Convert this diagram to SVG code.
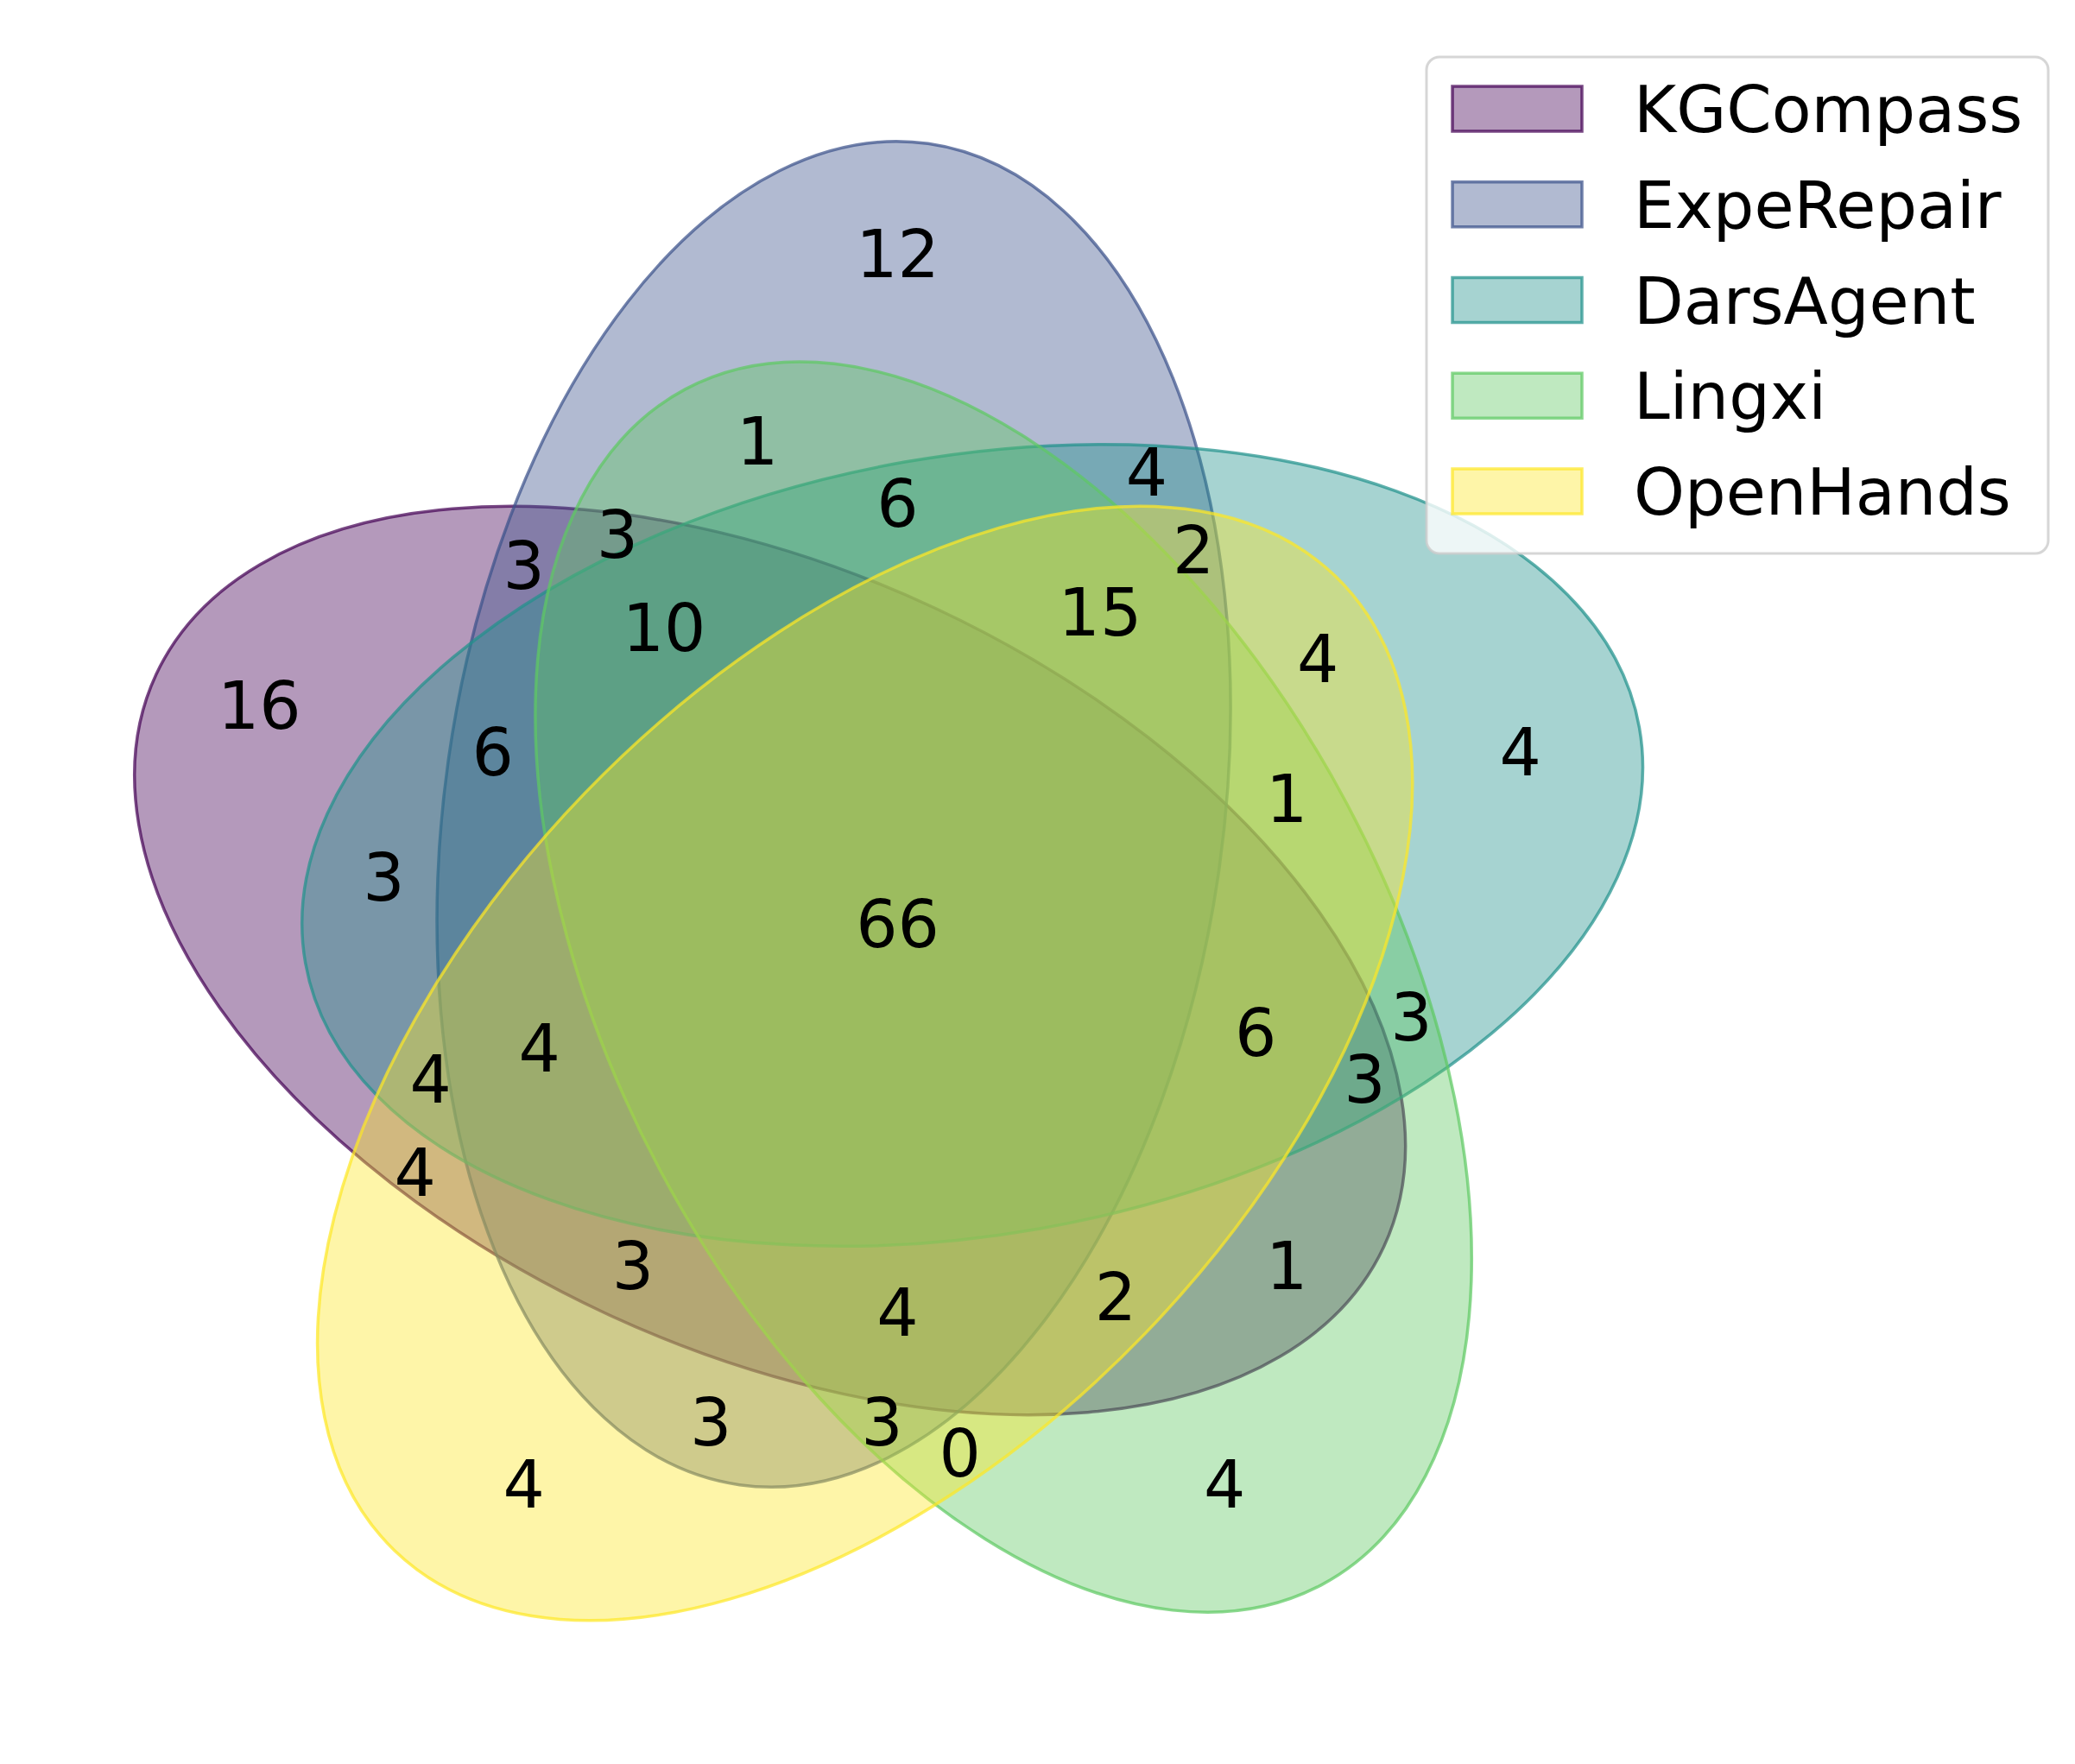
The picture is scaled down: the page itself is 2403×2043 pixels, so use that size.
<svg xmlns="http://www.w3.org/2000/svg" width="2403" height="2043" viewBox="0 0 2403 2043">
<style>
.lbl{font-family:"DejaVu Sans",sans-serif;font-size:76px;fill:#000;text-anchor:middle}
.leg{font-family:"DejaVu Sans",sans-serif;font-size:75px;fill:#000}
.sh{fill-opacity:0.4;stroke-opacity:0.72;stroke-width:3.5}
</style>
<rect x="0" y="0" width="2403" height="2043" fill="#ffffff"/>
<g id="sets">
<g id="kgcompass"><ellipse class="sh" cx="891.7" cy="1112.5" rx="784.3" ry="450.75" transform="rotate(-155 891.7 1112.5)" fill="#440154" stroke="#440154"/></g>
<g id="experepair"><ellipse class="sh" cx="965.6" cy="943.0" rx="784.3" ry="450.75" transform="rotate(-82 965.6 943.0)" fill="#3b528b" stroke="#3b528b"/></g>
<g id="darsagent"><ellipse class="sh" cx="1126.1" cy="979.0" rx="784.3" ry="450.75" transform="rotate(-10 1126.1 979.0)" fill="#21918c" stroke="#21918c"/></g>
<g id="lingxi"><ellipse class="sh" cx="1162.1" cy="1143.1" rx="784.3" ry="450.75" transform="rotate(-118 1162.1 1143.1)" fill="#5ec962" stroke="#5ec962"/></g>
<g id="openhands"><ellipse class="sh" cx="1001.7" cy="1231.5" rx="784.3" ry="450.75" transform="rotate(-46 1001.7 1231.5)" fill="#fde725" stroke="#fde725"/></g>
</g>
<g id="labels">
<text class="lbl" x="606.8" y="1745.7">4</text>
<text class="lbl" x="1418.2" y="1745.7">4</text>
<text class="lbl" x="1111.7" y="1709.6">0</text>
<text class="lbl" x="1760.7" y="898.3">4</text>
<text class="lbl" x="1526.3" y="790.1">4</text>
<text class="lbl" x="1634.5" y="1204.8">3</text>
<text class="lbl" x="1490.3" y="952.3">1</text>
<text class="lbl" x="1039.5" y="321.3">12</text>
<text class="lbl" x="823.2" y="1673.5">3</text>
<text class="lbl" x="877.3" y="537.7">1</text>
<text class="lbl" x="1021.5" y="1673.5">3</text>
<text class="lbl" x="1328" y="573.7">4</text>
<text class="lbl" x="1382.1" y="663.9">2</text>
<text class="lbl" x="1039.5" y="609.8">6</text>
<text class="lbl" x="1273.9" y="736">15</text>
<text class="lbl" x="300.3" y="844.2">16</text>
<text class="lbl" x="480.6" y="1385.1">4</text>
<text class="lbl" x="1490.3" y="1493.3">1</text>
<text class="lbl" x="1292" y="1529.3">2</text>
<text class="lbl" x="444.5" y="1042.5">3</text>
<text class="lbl" x="498.6" y="1276.9">4</text>
<text class="lbl" x="1580.4" y="1276.9">3</text>
<text class="lbl" x="1454.2" y="1222.8">6</text>
<text class="lbl" x="606.8" y="681.9">3</text>
<text class="lbl" x="733" y="1493.3">3</text>
<text class="lbl" x="715" y="645.8">3</text>
<text class="lbl" x="1039.5" y="1547.3">4</text>
<text class="lbl" x="570.8" y="898.3">6</text>
<text class="lbl" x="624.8" y="1240.8">4</text>
<text class="lbl" x="769.1" y="754">10</text>
<text class="lbl" x="1039.5" y="1096.6">66</text>
</g>
<g id="legend">
<rect x="1652" y="66" width="720" height="575" rx="15" ry="15" fill="#ffffff" fill-opacity="0.8" stroke="#cccccc" stroke-opacity="0.8" stroke-width="3"/>
<rect class="sh" x="1682" y="100" width="150" height="52" fill="#440154" stroke="#440154"/>
<text class="leg" x="1892" y="153">KGCompass</text>
<rect class="sh" x="1682" y="210.75" width="150" height="52" fill="#3b528b" stroke="#3b528b"/>
<text class="leg" x="1892" y="263.75">ExpeRepair</text>
<rect class="sh" x="1682" y="321.5" width="150" height="52" fill="#21918c" stroke="#21918c"/>
<text class="leg" x="1892" y="374.5">DarsAgent</text>
<rect class="sh" x="1682" y="432.25" width="150" height="52" fill="#5ec962" stroke="#5ec962"/>
<text class="leg" x="1892" y="485.25">Lingxi</text>
<rect class="sh" x="1682" y="543" width="150" height="52" fill="#fde725" stroke="#fde725"/>
<text class="leg" x="1892" y="596">OpenHands</text>
</g>
</svg>
